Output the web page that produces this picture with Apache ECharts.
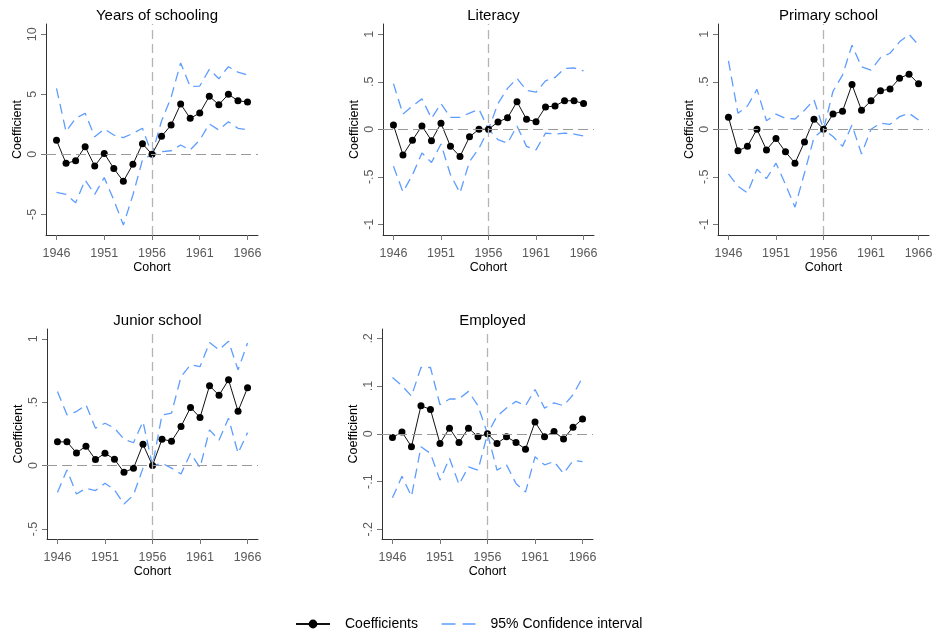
<!DOCTYPE html>
<html><head><meta charset="utf-8">
<script src="https://cdn.jsdelivr.net/npm/echarts@6/dist/echarts.min.js"></script>
<style>html,body{margin:0;padding:0;background:#fff}#c{width:937px;height:635px}</style>
</head><body><div id="c"></div>
<script>
// ---------- data ----------
const years = [1946,1947,1948,1949,1950,1951,1952,1953,1954,1955,1956,1957,1958,1959,1960,1961,1962,1963,1964,1965,1966];
const xTickLabels = [1946,1951,1956,1961,1966];
const panelTitles = ['Years of schooling','Literacy','Primary school','Junior school','Employed'];
const legendNames = ['Coefficients','95% Confidence interval'];

const schoolingCoef  = [1.17,-0.75,-0.53,0.64,-0.97,0.08,-1.18,-2.25,-0.83,0.89,0,1.5,2.44,4.19,3.0,3.44,4.83,4.14,5.0,4.47,4.36];
const schoolingUpper = [5.5,1.89,3.0,3.42,1.47,2.11,1.61,1.39,1.75,2.17,0,2.78,4.75,7.62,5.64,5.69,7.08,6.3,7.3,6.85,6.6];
const schoolingLower = [-3.17,-3.33,-4.03,-2.14,-3.33,-1.94,-3.8,-5.89,-3.39,-0.47,0,0.22,0.3,0.78,0.36,1.19,2.53,2.03,2.72,2.17,2.05];
const schoolingTicks = [-5,0,5,10];

const literacyCoef  = [0.045,-0.27,-0.115,0.035,-0.12,0.063,-0.18,-0.287,-0.08,0.0,0,0.077,0.12,0.29,0.105,0.08,0.234,0.245,0.30,0.30,0.27];
const literacyUpper = [0.48,0.16,0.245,0.32,0.115,0.27,0.125,0.125,0.17,0.21,0,0.27,0.43,0.535,0.41,0.39,0.51,0.545,0.64,0.645,0.615];
const literacyLower = [-0.39,-0.66,-0.48,-0.25,-0.35,-0.155,-0.48,-0.67,-0.34,-0.2,0,-0.11,-0.147,0.035,-0.18,-0.217,-0.04,-0.05,-0.04,-0.05,-0.07];
const literacyTicks = [-1,-0.5,0,0.5,1];

const primaryCoef  = [0.126,-0.227,-0.18,0.0,-0.217,-0.098,-0.238,-0.357,-0.133,0.105,0,0.16,0.19,0.47,0.2,0.30,0.405,0.423,0.538,0.58,0.48];
const primaryUpper = [0.72,0.168,0.245,0.42,0.09,0.16,0.115,0.108,0.2,0.31,0,0.40,0.57,0.885,0.657,0.622,0.755,0.80,0.92,1.0,0.885];
const primaryLower = [-0.47,-0.6,-0.67,-0.42,-0.52,-0.357,-0.58,-0.82,-0.46,-0.087,0,-0.077,-0.18,0.045,-0.26,0.0,0.063,0.052,0.133,0.168,0.098];
const primaryTicks = [-1,-0.5,0,0.5,1];

const juniorCoef  = [0.187,0.187,0.1,0.153,0.047,0.097,0.05,-0.053,-0.021,0.168,0,0.208,0.192,0.308,0.458,0.379,0.629,0.555,0.676,0.429,0.613];
const juniorUpper = [0.584,0.4,0.426,0.479,0.295,0.334,0.295,0.208,0.18,0.347,0,0.4,0.413,0.7,0.795,0.78,0.97,0.913,0.98,0.755,0.966];
const juniorLower = [-0.213,-0.034,-0.224,-0.179,-0.197,-0.139,-0.192,-0.303,-0.232,-0.02,0,0.018,-0.02,-0.066,0.097,-0.016,0.282,0.2,0.374,0.097,0.26];
const juniorTicks = [-0.5,0,0.5,1];

const employedCoef  = [-0.0077,0.004,-0.027,0.059,0.051,-0.02,0.012,-0.018,0.012,-0.006,0,-0.02,-0.006,-0.018,-0.032,0.025,-0.006,0.005,-0.011,0.014,0.031];
const employedUpper = [0.118,0.101,0.079,0.139,0.139,0.061,0.073,0.073,0.089,0.059,0,0.037,0.054,0.068,0.059,0.093,0.054,0.065,0.059,0.082,0.118];
const employedLower = [-0.134,-0.089,-0.131,-0.027,-0.041,-0.097,-0.051,-0.106,-0.069,-0.076,0,-0.076,-0.065,-0.104,-0.122,-0.048,-0.065,-0.058,-0.083,-0.056,-0.058];
const employedTicks = [-0.2,-0.1,0,0.1,0.2];

const refYear = 1956;

// ---------- layout ----------
const panels = [
  {coef: schoolingCoef, upper: schoolingUpper, lower: schoolingLower, ticks: schoolingTicks, grid:{left:46, top:24, width:212, height:211}, ymin:-6.72, ymax:10.86},
  {coef: literacyCoef, upper: literacyUpper, lower: literacyLower, ticks: literacyTicks, grid:{left:383, top:24, width:211, height:211}, ymin:-1.113, ymax:1.108},
  {coef: primaryCoef, upper: primaryUpper, lower: primaryLower, ticks: primaryTicks, grid:{left:718, top:24, width:211, height:211}, ymin:-1.113, ymax:1.108},
  {coef: juniorCoef, upper: juniorUpper, lower: juniorLower, ticks: juniorTicks, grid:{left:47, top:329, width:211, height:210}, ymin:-0.579, ymax:1.077},
  {coef: employedCoef, upper: employedUpper, lower: employedLower, ticks: employedTicks, grid:{left:382, top:329, width:211, height:210}, ymin:-0.2203, ymax:0.2197}
];

const FONT = '"Liberation Sans", Arial, sans-serif';
const BLUE = '#5e9dff';
const fmt = v => {
  let s = String(Math.round(v*1000)/1000);
  return s.replace(/^(-?)0\./, '$1.');
};
const pairs = arr => years.map((y,i) => [y, arr[i]]);

const grids = [], xAxes = [], yAxes = [], series = [], titles = [];
panels.forEach((p, i) => {
  grids.push(Object.assign({containLabel:false}, p.grid));
  titles.push({
    text: panelTitles[i],
    left: p.grid.left + p.grid.width/2,
    top: p.grid.top - 21,
    textAlign: 'center',
    textStyle: {fontFamily: FONT, fontSize: 15, fontWeight: 'normal', color: '#000'}
  });
  xAxes.push({
    type:'value', gridIndex:i, min:1944.9, max:1967.1,
    name:'Cohort', nameLocation:'middle', nameGap:24,
    nameTextStyle:{fontFamily:FONT, fontSize:12.5, color:'#000'},
    axisLine:{show:true, onZero:false, lineStyle:{color:'#333', width:1}},
    axisTick:{show:true, length:5, lineStyle:{color:'#777'}, customValues: xTickLabels},
    axisLabel:{fontFamily:FONT, fontSize:12.5, color:'#595959', margin:12, formatter: v => String(Math.round(v)), customValues: xTickLabels},
    splitLine:{show:false}
  });
  yAxes.push({
    type:'value', gridIndex:i, min:p.ymin, max:p.ymax,
    name:'Coefficient', nameLocation:'middle', nameGap:22,
    nameTextStyle:{fontFamily:FONT, fontSize:12.5, color:'#000'},
    axisLine:{show:true, onZero:false, lineStyle:{color:'#333', width:1}},
    axisTick:{show:true, length:5, lineStyle:{color:'#777'}, customValues: p.ticks},
    axisLabel:{fontFamily:FONT, fontSize:12.5, color:'#595959', rotate:90, margin:7, formatter: fmt, customValues: p.ticks},
    splitLine:{show:false}
  });
  const ciStyle = {color: BLUE, width: 1.3, type: [10,6]};
  series.push({
    name: legendNames[1], type:'line', xAxisIndex:i, yAxisIndex:i, data: pairs(p.upper),
    symbol:'none', lineStyle: ciStyle, itemStyle:{color:BLUE}, silent:true, z:2,
    markLine:{
      silent:true, symbol:'none', label:{show:false},
      data:[
        {xAxis: refYear, lineStyle:{color:'#b4b4b4', width:1.3, type:[9,5]}},
        {yAxis: 0, lineStyle:{color:'#9a9a9a', width:1, type:[10,5]}}
      ]
    }
  });
  series.push({
    name: legendNames[1], type:'line', xAxisIndex:i, yAxisIndex:i, data: pairs(p.lower),
    symbol:'none', lineStyle: ciStyle, itemStyle:{color:BLUE}, silent:true, z:2
  });
  series.push({
    name: legendNames[0], type:'line', xAxisIndex:i, yAxisIndex:i, data: pairs(p.coef),
    symbol:'circle', symbolSize:7, lineStyle:{color:'#111', width:1}, itemStyle:{color:'#000'}, z:3
  });
});

const chart = echarts.init(document.getElementById('c'), null, {renderer:'canvas'});
chart.setOption({
  animation:false,
  backgroundColor:'#fff',
  title: titles,
  grid: grids,
  xAxis: xAxes,
  yAxis: yAxes,
  legend:{
    data: [
      {name: legendNames[0]},
      {name: legendNames[1], itemStyle:{opacity:0}, lineStyle:{type:[14,7], width:1.3, color:BLUE}}
    ],
    left: 290, top: 612, itemWidth: 34, itemHeight: 11, itemGap: 23,
    textStyle:{fontFamily:FONT, fontSize:14, color:'#000', padding:[0,0,0,10]}
  },
  series: series
});
</script></body></html>
